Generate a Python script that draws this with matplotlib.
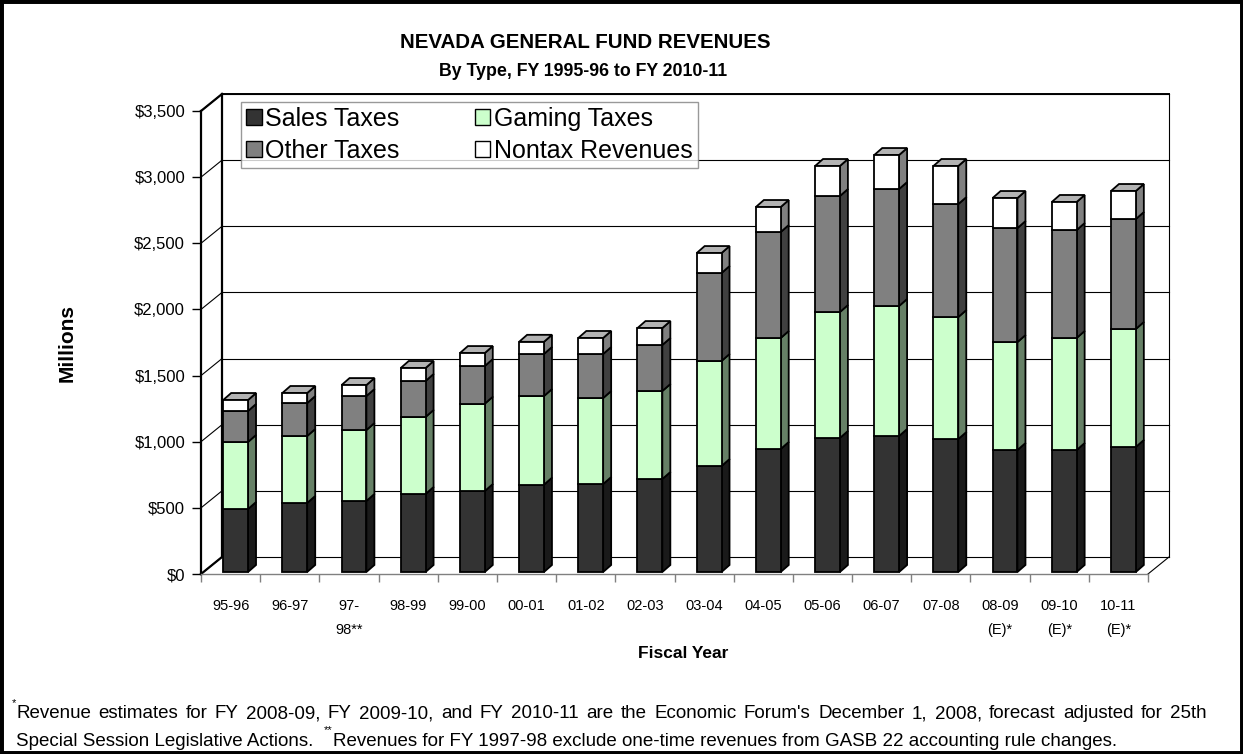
import numpy as np
import matplotlib
matplotlib.use("Agg")
import matplotlib.pyplot as plt
from matplotlib.patches import Patch, Rectangle, Polygon

# ---------------- data ----------------
years = ["95-96", "96-97", "97-\n98**", "98-99", "99-00", "00-01", "01-02", "02-03",
         "03-04", "04-05", "05-06", "06-07", "07-08", "08-09\n(E)*", "09-10\n(E)*", "10-11\n(E)*"]
sales_taxes = [476, 522, 537, 590, 612, 660, 665, 703, 801, 930, 1013, 1028, 1005, 922, 922, 945]
gaming_taxes = [507, 506, 536, 582, 660, 670, 650, 665, 794, 839, 952, 983, 922, 816, 847, 892]
other_taxes = [234, 249, 257, 272, 285, 318, 333, 348, 665, 801, 877, 884, 854, 862, 816, 831]
nontax_revenues = [83, 76, 83, 98, 98, 92, 121, 128, 151, 189, 227, 257, 288, 227, 212, 212]
series_names = ["Sales Taxes", "Gaming Taxes", "Other Taxes", "Nontax Revenues"]
y_ticks = [0, 500, 1000, 1500, 2000, 2500, 3000, 3500]
note1 = ("Revenue estimates for FY 2008-09, FY 2009-10, and FY 2010-11 are the "
         "Economic Forum's December 1, 2008, forecast adjusted for 25th")
note2a = "Special Session Legislative Actions.  "
note2b = "Revenues for FY 1997-98 exclude one-time revenues from GASB 22 accounting rule changes."

# ---------------- style ----------------
plt.rcParams["font.family"] = ["Liberation Sans", "DejaVu Sans"]

front_cols = ["#333333", "#CCFFCC", "#808080", "#FFFFFF"]
side_cols = ["#1A1A1A", "#668066", "#404040", "#808080"]
top_col = "#B3B3B3"

W, H = 1243, 754
fig = plt.figure(figsize=(W / 100, H / 100), dpi=100)


def fx(px):
    return px / W


def fy(py):
    return 1 - py / H


# front plane of the 3-D box
ax_l, ax_r, ax_t, ax_b = 201, 1148, 111, 574
ax = fig.add_axes([fx(ax_l), fy(ax_b), (ax_r - ax_l) / W, (ax_b - ax_t) / H])
n = len(years)
ymax = y_ticks[-1]
ax.set_xlim(0, n)
ax.set_ylim(0, ymax)
ax.patch.set_alpha(0)

ppx = (ax_r - ax_l) / n
ppy = (ax_b - ax_t) / ymax


def off(dxp, dyp):
    return dxp / ppx, dyp / ppy


wdx, wdy = off(21, 17)      # back wall depth
fdx, fdy = off(5, 2)        # bar front face depth
bdx, bdy = off(8, 7)        # bar depth
bw = 0.42

# back wall gridlines & frame
for v in y_ticks:
    ax.plot([wdx, n + wdx], [v + wdy, v + wdy], color="black", lw=0.8, clip_on=False, zorder=1)
    ax.plot([0, wdx], [v, v + wdy], color="black", lw=0.8, clip_on=False, zorder=1)
ax.plot([wdx, wdx], [wdy, ymax + wdy], color="black", lw=1.6, clip_on=False, zorder=1)
ax.plot([n + wdx, n + wdx], [wdy, ymax + wdy], color="black", lw=0.8, clip_on=False, zorder=1)
ax.plot([wdx, n + wdx], [ymax + wdy, ymax + wdy], color="black", lw=1.4, clip_on=False, zorder=1)
ax.plot([0, wdx], [ymax, ymax + wdy], color="black", lw=1.6, clip_on=False, zorder=1)
ax.plot([0, wdx], [0, wdy], color="black", lw=1.6, clip_on=False, zorder=1)
ax.plot([n, n + wdx], [0, wdy], color="black", lw=0.8, clip_on=False, zorder=1)

# bars
xc = np.arange(n) + 0.5
series = [sales_taxes, gaming_taxes, other_taxes, nontax_revenues]
bottom = np.zeros(n)
for k, vals in enumerate(series):
    vals = np.array(vals, dtype=float)
    ax.bar(xc + fdx, vals, bottom=bottom + fdy, width=bw, color=front_cols[k],
           edgecolor="black", linewidth=1.3, clip_on=False, zorder=3)
    for i in range(n):
        xr = xc[i] + fdx + bw / 2
        b = bottom[i] + fdy
        t = bottom[i] + vals[i] + fdy
        ax.add_patch(Polygon([(xr, b), (xr, t), (xr + bdx, t + bdy), (xr + bdx, b + bdy)],
                             closed=True, fc=side_cols[k], ec="black", lw=1.3,
                             clip_on=False, zorder=2))
    bottom = bottom + vals
for i in range(n):
    xl = xc[i] + fdx - bw / 2
    xr = xc[i] + fdx + bw / 2
    t = bottom[i] + fdy
    ax.add_patch(Polygon([(xl, t), (xr, t), (xr + bdx, t + bdy), (xl + bdx, t + bdy)],
                         closed=True, fc=top_col, ec="black", lw=1.3, clip_on=False, zorder=2))

# axes styling
for s in ["top", "right"]:
    ax.spines[s].set_visible(False)
ax.spines["left"].set_linewidth(1.6)
ax.spines["bottom"].set_color("#808080")
ax.spines["bottom"].set_linewidth(1.0)
ax.set_yticks(y_ticks)
ax.set_yticklabels([f"${v:,}" for v in y_ticks], fontsize=12)
ax.tick_params(axis="y", length=6.5, width=1, color="black", pad=5)
ax.set_xticks(np.arange(n + 1))
ax.set_xticklabels([])
ax.tick_params(axis="x", which="major", length=6, width=1, color="#808080")
ax.set_xticks(xc, minor=True)
ax.set_xticklabels(years, minor=True, fontsize=10.5, linespacing=1.9)
ax.tick_params(axis="x", which="minor", length=0, pad=18)

# titles and axis labels
fig.text(fx(585), fy(42), "NEVADA GENERAL FUND REVENUES", ha="center", va="center",
         fontsize=14.8, fontweight="bold")
fig.text(fx(583), fy(72), "By Type, FY 1995-96 to FY 2010-11", ha="center", va="center",
         fontsize=12.8, fontweight="bold")
fig.text(fx(67), fy(343), "Millions", ha="center", va="center", rotation=90,
         fontsize=15, fontweight="bold")
fig.text(fx(683), fy(654), "Fiscal Year", ha="center", va="center",
         fontsize=12.5, fontweight="bold")

# legend
handles = [Patch(fc=front_cols[0], ec="black"), Patch(fc=front_cols[2], ec="black"),
           Patch(fc=front_cols[1], ec="black"), Patch(fc=front_cols[3], ec="black")]
labels = [series_names[0], series_names[2], series_names[1], series_names[3]]
leg = fig.legend(handles, labels, ncol=2, loc="upper left", bbox_to_anchor=(fx(241), fy(102)),
                 frameon=True, fancybox=False, edgecolor="#808080", fontsize=18,
                 borderpad=0.2, labelspacing=0.3, handlelength=0.62, handleheight=0.62,
                 handletextpad=0.15, columnspacing=3.0, borderaxespad=0)
leg.get_frame().set_linewidth(1.0)

# footnotes (first line justified to full width)
fn_size = 13.5
renderer = fig.canvas.get_renderer()
fig.text(fx(12), fy(703), "*", fontsize=8, ha="left", va="center")
words = note1.split(" ")
widths = []
for w_ in words:
    tt = fig.text(0, 0, w_, fontsize=fn_size)
    widths.append(tt.get_window_extent(renderer).width)
    tt.remove()
x_start, x_end = 16, 1207
gap = (x_end - x_start - sum(widths)) / (len(words) - 1)
xpos = x_start
for w_, wd in zip(words, widths):
    fig.text(fx(xpos), fy(714), w_, fontsize=fn_size, ha="left", va="center")
    xpos += wd + gap

t1 = fig.text(fx(16), fy(741), note2a, fontsize=fn_size, ha="left", va="center")
bb = t1.get_window_extent(renderer)
t2 = fig.text(bb.x1 / W, fy(730), "**", fontsize=8, ha="left", va="center")
bb2 = t2.get_window_extent(renderer)
fig.text(bb2.x1 / W, fy(741), note2b, fontsize=fn_size, ha="left", va="center")

# outer frame
fig.patches.append(Rectangle((0, 0), 1, 1, transform=fig.transFigure, fill=False,
                             ec="black", lw=5))

fig.savefig("out.png", dpi=100)
